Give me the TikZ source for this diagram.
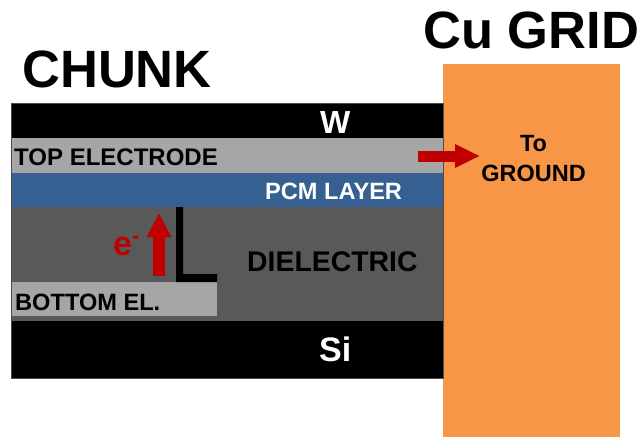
\documentclass[tikz,border=0pt]{standalone}
\usepackage{fontspec}
\setmainfont{Liberation Sans}
\usetikzlibrary{arrows.meta}
\definecolor{wblack}{HTML}{000000}
\definecolor{elgray}{HTML}{A6A6A6}
\definecolor{pcmblue}{HTML}{376092}
\definecolor{diegray}{HTML}{595959}
\definecolor{cuorange}{HTML}{F79646}
\definecolor{arrred}{HTML}{C00000}
\newcommand{\fsz}[1]{\fontsize{#1}{#1}\selectfont\bfseries}
\begin{document}
\begin{tikzpicture}[x=1pt,y=-1pt,
  lbl/.style={inner sep=0pt,anchor=base west},
  blockarrow/.style={draw=arrred,line width=#1},
]
\useasboundingbox (0,0) rectangle (640,439);
% Cu grid
\fill[cuorange] (443,64) rectangle (620,437);
\node (cugrid) [lbl] at (423,48) {\fsz{52.5}Cu GRID};
% chunk layers
\fill[wblack] (11,103) rectangle (443,138);
\fill[elgray] (11,138) rectangle (443,173);
\fill[pcmblue] (11,173) rectangle (443,207);
\fill[diegray] (11,207) rectangle (443,321);
\fill[wblack] (11,321) rectangle (443,378);
\fill[elgray] (11,282) rectangle (217,316);
\draw[black!70,line width=0.8] (11,103) rectangle (443,378);
\node (chunk) [lbl] at (22,87) {\fsz{52.5}CHUNK};
\node (w) [lbl,text=white] at (320,133) {\fsz{32}W};
\node (top) [lbl] at (14,165) {\fsz{24}TOP ELECTRODE};
\node (pcm) [lbl,text=white] at (265,199) {\fsz{23.6}PCM LAYER};
\node (die) [lbl] at (247,271) {\fsz{28.4}DIELECTRIC};
\node (bot) [lbl] at (15,310) {\fsz{23.6}BOTTOM EL.};
\node (si) [lbl,text=white] at (319,361) {\fsz{34}Si};
\node (gnd) [inner sep=0pt,align=center,anchor=base,font=\fsz{23.5}] at (533.5,181) {To\\[6pt]GROUND};
% L shape
\fill[black] (176,207) -- (183,207) -- (183,274) -- (217,274) -- (217,282) -- (176,282) -- cycle;
% e-
\node (e) [lbl,text=arrred] at (113,255) {\fsz{34}e\raisebox{12pt}{\fsz{22}-}};
% arrows
\coordinate (upS) at (159,276);
\coordinate (upE) at (159,213);
\draw[blockarrow=12,-{Triangle[length=24pt,width=23pt]}] (upS) -- (upE);
\coordinate (rS) at (418,156);
\coordinate (rE) at (480,156);
\draw[blockarrow=11,-{Triangle[length=25pt,width=22pt]}] (rS) -- (rE);
\end{tikzpicture}
\end{document}
